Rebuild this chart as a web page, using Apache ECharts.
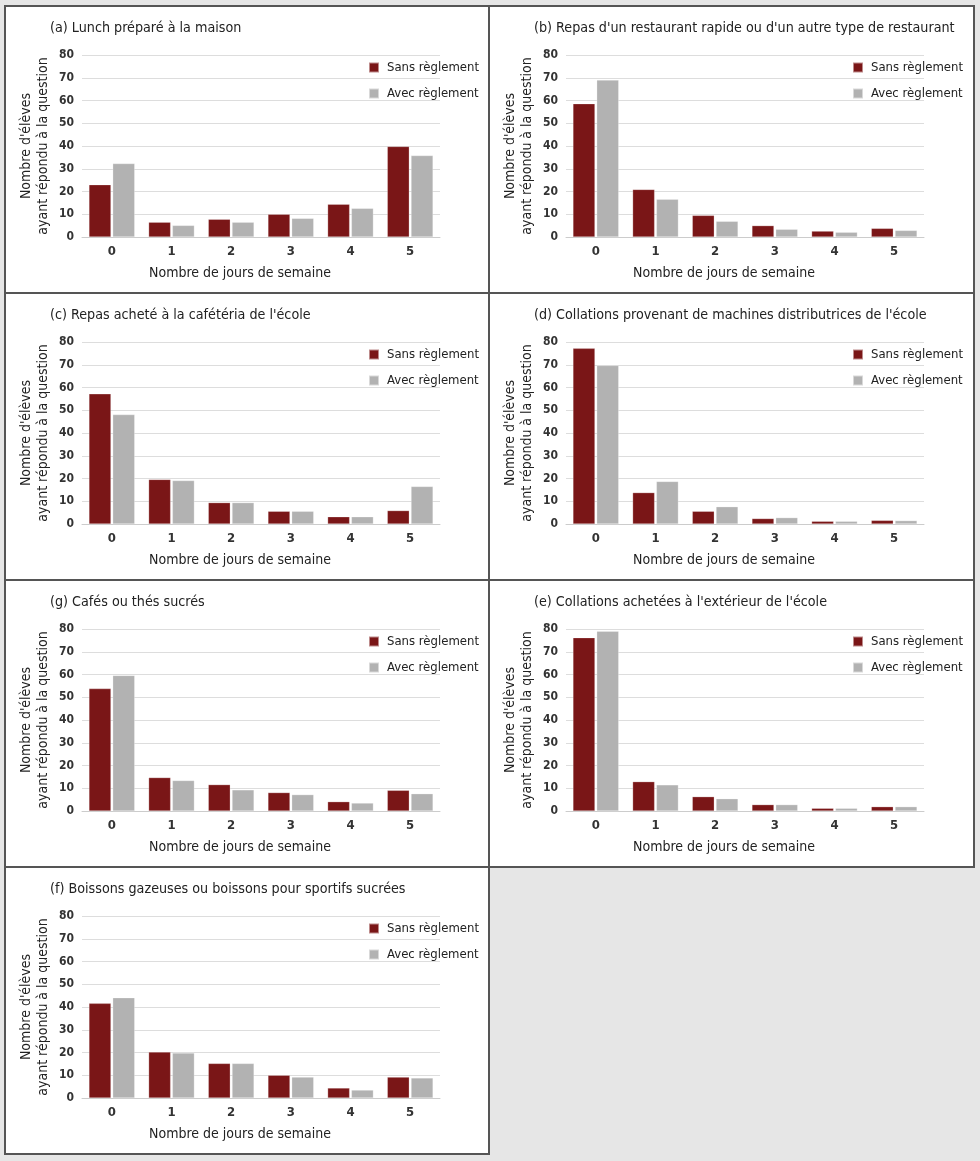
<!DOCTYPE html>
<html>
<head>
<meta charset="utf-8">
<script src="https://cdn.jsdelivr.net/npm/echarts@6/dist/echarts.min.js"></script>
<style>
html,body{margin:0;padding:0;background:#e6e6e6;}
#chart{width:980px;height:1161px;}
</style>
</head>
<body>
<div id="chart"></div>
<script>
// ---- Data ----
var categories = ['0', '1', '2', '3', '4', '5'];
var seriesNames = ['Sans règlement', 'Avec règlement'];
var titles = [
  "(a) Lunch préparé à la maison",
  "(b) Repas d'un restaurant rapide ou d'un autre type de restaurant",
  "(c) Repas acheté à la cafétéria de l'école",
  "(d) Collations provenant de machines distributrices de l'école",
  "(g) Cafés ou thés sucrés",
  "(e) Collations achetées à l'extérieur de l'école",
  "(f) Boissons gazeuses ou boissons pour sportifs sucrées"
];
var lunchSans = [23, 6.5, 7.8, 10, 14.4, 39.8];
var lunchAvec = [32.3, 5.1, 6.5, 8.2, 12.6, 35.8];
var restoSans = [58.6, 20.9, 9.5, 5, 2.6, 3.8];
var restoAvec = [69, 16.6, 6.9, 3.4, 2.1, 2.9];
var cafetSans = [57.2, 19.6, 9.4, 5.6, 3.2, 5.9];
var cafetAvec = [48.1, 19.1, 9.4, 5.6, 3.2, 16.5];
var machinesSans = [77.2, 13.8, 5.6, 2.4, 1.2, 1.6];
var machinesAvec = [69.7, 18.7, 7.6, 2.8, 1.2, 1.5];
var cafesSans = [53.8, 14.7, 11.6, 8.1, 4.1, 9.1];
var cafesAvec = [59.6, 13.4, 9.3, 7.2, 3.5, 7.6];
var exterieurSans = [76.2, 12.9, 6.3, 2.8, 1.2, 1.9];
var exterieurAvec = [79, 11.5, 5.4, 2.8, 1.2, 1.9];
var boissonsSans = [41.6, 20.2, 15.2, 10, 4.4, 9.2];
var boissonsAvec = [44.1, 19.8, 15.2, 9.2, 3.5, 8.8];
var yTicks = [0, 10, 20, 30, 40, 50, 60, 70, 80];
var xAxisTitle = 'Nombre de jours de semaine';
var yAxisTitle = "Nombre d'élèves\nayant répondu à la question";

var panelData = [
  [lunchSans, lunchAvec],
  [restoSans, restoAvec],
  [cafetSans, cafetAvec],
  [machinesSans, machinesAvec],
  [cafesSans, cafesAvec],
  [exterieurSans, exterieurAvec],
  [boissonsSans, boissonsAvec]
];

// ---- Layout ----
var colX = [5, 489, 974];
var rowY = [6, 293, 580, 867, 1154];
var FONT = "'Liberation Sans Narrow', 'DejaVu Sans Condensed', 'Noto Sans', sans-serif";
var RED = '#7a1617';
var GREY = '#b2b2b2';

var option = {
  backgroundColor: '#e6e6e6',
  animation: false,
  textStyle: { fontFamily: FONT },
  title: [], legend: [], grid: [], xAxis: [], yAxis: [], series: [], graphic: []
};

panelData.forEach(function (pair, i) {
  var c = i % 2, r = Math.floor(i / 2);
  var x0 = colX[c], x1 = colX[c + 1], y0 = rowY[r], y1 = rowY[r + 1];
  option.graphic.push({
    type: 'rect', z: 0,
    shape: { x: x0, y: y0, width: x1 - x0, height: y1 - y0 },
    style: { fill: '#ffffff', stroke: '#555555', lineWidth: 2 }
  });
  option.title.push({
    text: titles[i], left: x0 + 45, top: y0 + 15, padding: 0,
    textStyle: { fontFamily: FONT, fontSize: 14.2, fontWeight: 'normal', color: '#222' }
  });
  option.legend.push({
    data: seriesNames, orient: 'vertical', left: x0 + 363, top: y0 + 55,
    icon: 'rect', itemWidth: 10, itemHeight: 10, itemGap: 13, padding: 0,
    selectedMode: false,
    textStyle: { fontFamily: FONT, fontSize: 13, color: '#222', padding: [0, 0, 0, 3] }
  });
  option.grid.push({
    left: x0 + 77, width: 358, top: y0 + 49, height: 182, containLabel: false
  });
  option.xAxis.push({
    type: 'category', gridIndex: i, data: categories,
    axisTick: { show: false },
    axisLine: { lineStyle: { color: '#cccccc', width: 1 } },
    axisLabel: { fontFamily: FONT, fontSize: 13, fontWeight: 'bold', color: '#333', margin: 8 },
    name: xAxisTitle, nameLocation: 'middle', nameGap: 29,
    nameTextStyle: { fontFamily: FONT, fontSize: 14, color: '#222', padding: [0, 42, 0, 0] }
  });
  option.yAxis.push({
    type: 'value', gridIndex: i, min: 0, max: 80, interval: 10,
    axisLine: { show: false }, axisTick: { show: false },
    splitLine: { lineStyle: { color: '#dddddd', width: 1 } },
    axisLabel: { fontFamily: FONT, fontSize: 12, fontWeight: 'bold', color: '#333', margin: 8 },
    name: yAxisTitle, nameLocation: 'middle', nameGap: 30, nameRotate: 90,
    nameTextStyle: { fontFamily: FONT, fontSize: 14, color: '#222', lineHeight: 17 }
  });
  [RED, GREY].forEach(function (col, s) {
    option.series.push({
      type: 'bar', name: seriesNames[s], xAxisIndex: i, yAxisIndex: i,
      data: pair[s], barWidth: 22, barGap: '8%',
      itemStyle: { color: col, borderColor: 'rgba(255,255,255,0.5)', borderWidth: 0.5 }
    });
  });
});

var chart = echarts.init(document.getElementById('chart'));
chart.setOption(option);
</script>
</body>
</html>
